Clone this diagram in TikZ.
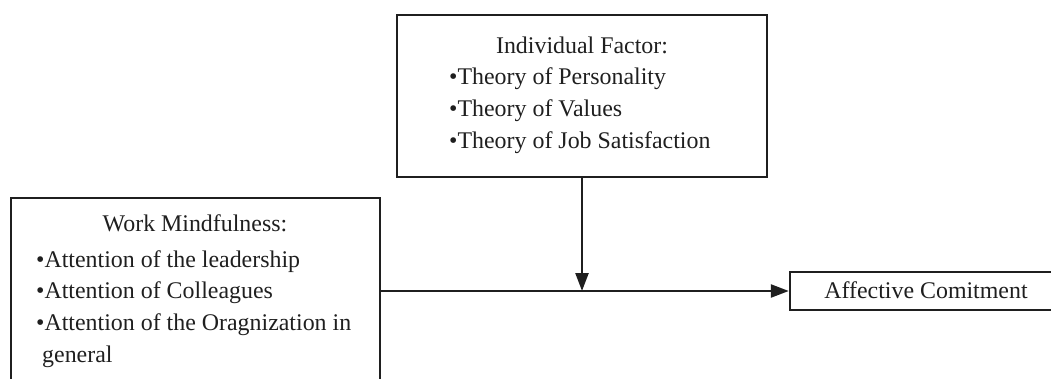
\documentclass[tikz,border=0pt]{standalone}
\usepackage{fontspec}
\setmainfont{Liberation Serif}
\usetikzlibrary{arrows.meta}
\begin{document}
\begin{tikzpicture}[x=1pt,y=-1pt,
  boxstyle/.style={draw=black!88,line width=2.4pt,rectangle,inner sep=0pt},
  txt/.style={inner sep=0pt,font=\fontsize{23.9}{31}\selectfont,text=black!88},
  conn/.style={draw=black!88,line width=2.4pt,-{Triangle[length=18pt,width=13pt]}}]
\useasboundingbox (0,0) rectangle (1051,378);
\clip (0,0) rectangle (1051,378);
% boxes
\node[boxstyle,minimum width=370pt,minimum height=162pt] (ind) at (582,96) {};
\node[boxstyle,minimum width=369pt,minimum height=250pt] (wm) at (195.5,323) {};
\node[boxstyle,minimum width=262pt,minimum height=38pt] (ac) at (921,291) {};
% texts
\node[txt,anchor=base] (t1) at (582,53) {Individual Factor:};
\node[txt,anchor=base west] (t2) at (449,84) {•Theory of Personality};
\node[txt,anchor=base west] (t3) at (449,116) {•Theory of Values};
\node[txt,anchor=base west] (t4) at (449,148) {•Theory of Job Satisfaction};
\node[txt,anchor=base] (w1) at (195,231) {Work Mindfulness:};
\node[txt,anchor=base west] (w2) at (36,267) {•Attention of the leadership};
\node[txt,anchor=base west] (w3) at (36,298) {•Attention of Colleagues};
\node[txt,anchor=base west] (w4) at (36,330) {•Attention of the Oragnization in};
\node[txt,anchor=base west] (w5) at (42,362) {general};
\node[txt,anchor=base] (a1) at (926,298) {Affective Comitment};
% connectors
\draw[conn] (wm.east |- ac.west) -- (ac.west);
\draw[conn] (ind.south) -- (ind.south |- ac.west);
\end{tikzpicture}
\end{document}
